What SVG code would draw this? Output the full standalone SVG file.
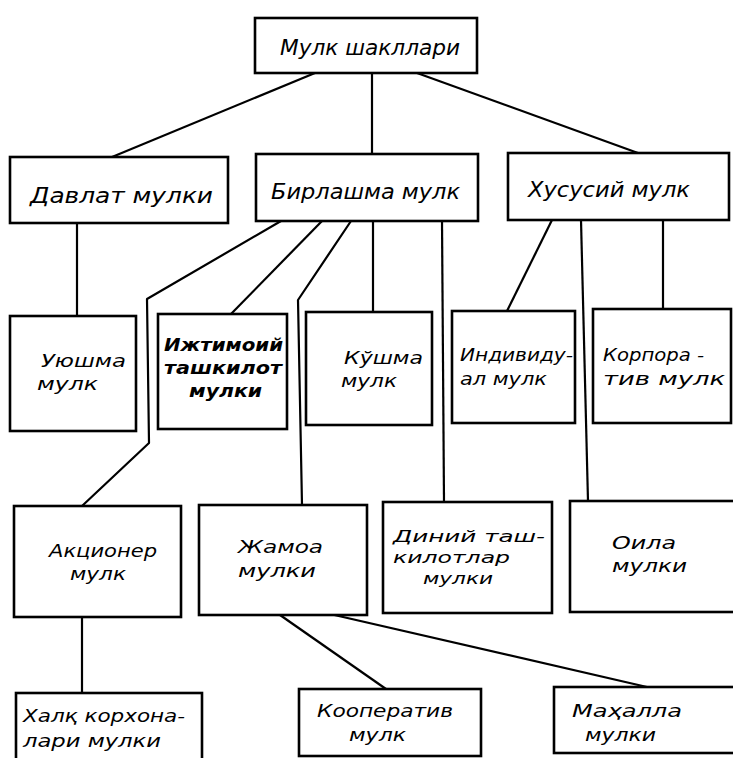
<svg xmlns="http://www.w3.org/2000/svg" width="733" height="758" viewBox="0 0 733 758">
<style>
.box{fill:#fff;stroke:#000;stroke-width:2.6}
.t{font-family:"DejaVu Sans Condensed","Liberation Sans Narrow","Liberation Sans",sans-serif;font-style:italic;font-size:22px;fill:#000}
.s{font-size:18px}
.xs{font-size:16px}
.b{font-weight:bold}
.c{fill:none;stroke:#000;stroke-width:2.2;stroke-linejoin:round}
</style>
<rect width="733" height="758" fill="#fff"/>
<g id="connectors">
<path class="c" d="M315,73 L112,157"/>
<path class="c" d="M372,73 L372,154"/>
<path class="c" d="M417,73 L638,153"/>
<path class="c" d="M77,223 L77,316"/>
<path class="c" d="M281,221 L147,299 L149,443 L82,506"/>
<path class="c" d="M322,221 L231,314"/>
<path class="c" d="M351,221 L298,300 L302,505"/>
<path class="c" d="M373,221 L373,312"/>
<path class="c" d="M442,221 L444,502"/>
<path class="c" d="M552,220 L507,311"/>
<path class="c" d="M581,220 L588,501"/>
<path class="c" d="M663,220 L663,309"/>
<path class="c" d="M82,617 L82,693"/>
<path class="c" d="M280,615 L386,689"/>
<path class="c" d="M330,614 L647,687"/>
</g>
<g id="n_top"><rect class="box" x="255" y="18" width="222" height="55"/><text class="t" x="280" y="55" textLength="180" lengthAdjust="spacingAndGlyphs">Мулк шакллари</text></g>
<g id="n_davlat"><rect class="box" x="10" y="157" width="218" height="66"/><text class="t" x="30" y="203" textLength="183" lengthAdjust="spacingAndGlyphs">Давлат мулки</text></g>
<g id="n_birlashma"><rect class="box" x="256" y="154" width="222" height="67"/><text class="t" x="271" y="199" textLength="189" lengthAdjust="spacingAndGlyphs">Бирлашма мулк</text></g>
<g id="n_xususiy"><rect class="box" x="508" y="153" width="221" height="67"/><text class="t" x="528" y="197" textLength="162" lengthAdjust="spacingAndGlyphs">Хусусий мулк</text></g>
<g id="n_uyushma"><rect class="box" x="10" y="316" width="126" height="115"/><text class="t s" x="41" y="367" textLength="85" lengthAdjust="spacingAndGlyphs">Уюшма</text><text class="t s" x="37" y="390" textLength="61" lengthAdjust="spacingAndGlyphs">мулк</text></g>
<g id="n_ijtimoiy"><rect class="box" x="158" y="314" width="129" height="115"/><text class="t s b" x="164" y="351" textLength="119" lengthAdjust="spacingAndGlyphs">Ижтимоий</text><text class="t s b" x="164" y="374" textLength="118" lengthAdjust="spacingAndGlyphs">ташкилот</text><text class="t s b" x="189" y="397" textLength="73" lengthAdjust="spacingAndGlyphs">мулки</text></g>
<g id="n_qoshma"><rect class="box" x="306" y="312" width="126" height="113"/><text class="t s" x="344" y="364" textLength="79" lengthAdjust="spacingAndGlyphs">Кўшма</text><text class="t s" x="341" y="387" textLength="56" lengthAdjust="spacingAndGlyphs">мулк</text></g>
<g id="n_individual"><rect class="box" x="452" y="311" width="123" height="112"/><text class="t s" x="460" y="361" textLength="113" lengthAdjust="spacingAndGlyphs">Индивиду-</text><text class="t s" x="460" y="385" textLength="87" lengthAdjust="spacingAndGlyphs">ал мулк</text></g>
<g id="n_korporativ"><rect class="box" x="593" y="309" width="138" height="114"/><text class="t s" x="603" y="361" textLength="101" lengthAdjust="spacingAndGlyphs">Корпора -</text><text class="t s" x="603" y="385" textLength="122" lengthAdjust="spacingAndGlyphs">тив мулк</text></g>
<g id="n_aksioner"><rect class="box" x="14" y="506" width="167" height="111"/><text class="t s" x="49" y="557" textLength="108" lengthAdjust="spacingAndGlyphs">Акционер</text><text class="t s" x="70" y="580" textLength="56" lengthAdjust="spacingAndGlyphs">мулк</text></g>
<g id="n_jamoa"><rect class="box" x="199" y="505" width="168" height="110"/><text class="t s" x="238" y="553" textLength="85" lengthAdjust="spacingAndGlyphs">Жамоа</text><text class="t s" x="238" y="577" textLength="78" lengthAdjust="spacingAndGlyphs">мулки</text></g>
<g id="n_diniy"><rect class="box" x="383" y="502" width="169" height="111"/><text class="t xs" x="393" y="542" textLength="152" lengthAdjust="spacingAndGlyphs">Диний таш-</text><text class="t xs" x="393" y="563" textLength="117" lengthAdjust="spacingAndGlyphs">килотлар</text><text class="t xs" x="423" y="584" textLength="70" lengthAdjust="spacingAndGlyphs">мулки</text></g>
<g id="n_oila"><rect class="box" x="570" y="501" width="165" height="111"/><text class="t s" x="612" y="549" textLength="64" lengthAdjust="spacingAndGlyphs">Оила</text><text class="t s" x="612" y="572" textLength="75" lengthAdjust="spacingAndGlyphs">мулки</text></g>
<g id="n_xalq"><rect class="box" x="16" y="693" width="186" height="80"/><text class="t s" x="23" y="722" textLength="162" lengthAdjust="spacingAndGlyphs">Халқ корхона-</text><text class="t s" x="23" y="747" textLength="138" lengthAdjust="spacingAndGlyphs">лари мулки</text></g>
<g id="n_kooperativ"><rect class="box" x="299" y="689" width="182" height="67"/><text class="t s" x="317" y="717" textLength="136" lengthAdjust="spacingAndGlyphs">Кооператив</text><text class="t s" x="349" y="741" textLength="57" lengthAdjust="spacingAndGlyphs">мулк</text></g>
<g id="n_mahalla"><rect class="box" x="554" y="687" width="182" height="66"/><text class="t s" x="572" y="717" textLength="110" lengthAdjust="spacingAndGlyphs">Маҳалла</text><text class="t s" x="585" y="741" textLength="71" lengthAdjust="spacingAndGlyphs">мулки</text></g>
</svg>
